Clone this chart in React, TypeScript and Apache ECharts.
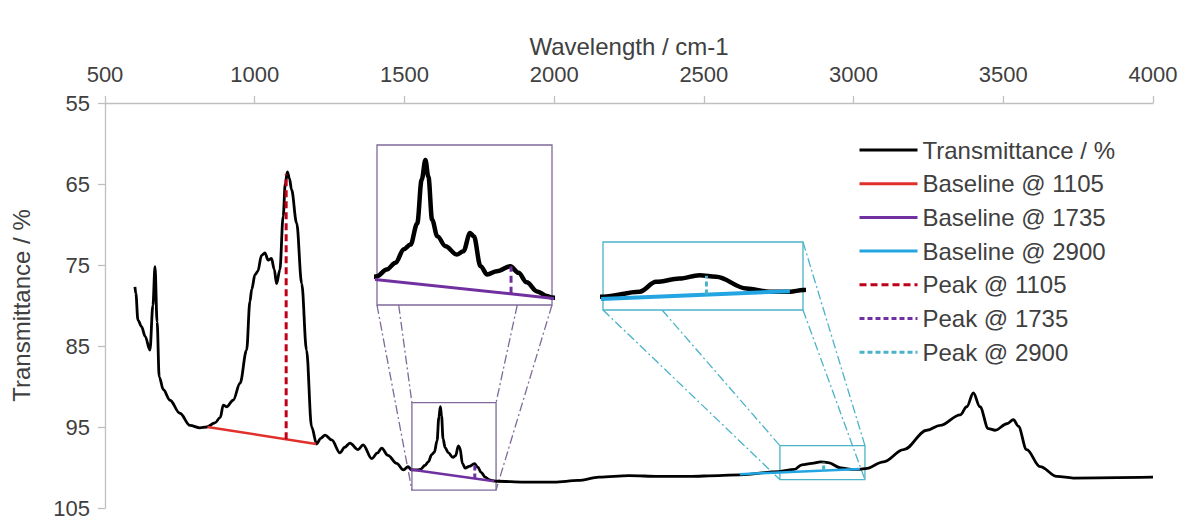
import React, { useEffect, useRef } from "react";
import * as echarts from "echarts";

// ---- data ----
const wavenumber = [
  600, 603, 610, 622, 634, 650, 660, 667, 674, 681, 695, 717, 750, 784, 817, 840, 867, 885, 895, 906,
  928, 951, 973, 984, 990, 1001, 1010, 1023, 1034, 1045, 1056, 1065, 1073, 1084, 1095, 1102, 1109,
  1116, 1123, 1140, 1157, 1173, 1190, 1207, 1220, 1235, 1257, 1285, 1300, 1318, 1345, 1362, 1391,
  1410, 1424, 1445, 1474, 1497, 1512, 1524, 1545, 1555, 1568, 1580, 1591, 1600, 1609, 1615, 1620,
  1624, 1629, 1636, 1647, 1662, 1671, 1680, 1685, 1694, 1703, 1716, 1734, 1745, 1756, 1770, 1783,
  1790, 1808, 1900, 2000, 2080, 2150, 2250, 2350, 2450, 2550, 2621, 2750, 2803, 2827, 2861, 2890,
  2914, 2958, 2992, 3021, 3040, 3100, 3167, 3245, 3289, 3356, 3378, 3400, 3422, 3450, 3473, 3512,
  3534, 3550, 3578, 3623, 3679, 3734, 4000,
];
const transmittance = [
  77.7, 78.5, 81.8, 82.6, 83.8, 85.5, 80.0, 75.2, 82.0, 88.8, 90.4, 91.7, 93.3, 94.8, 95.1, 95.0, 94.5, 93.8, 92.3, 92.5,
  91.7, 89.6, 85.5, 79.5, 78.0, 76.2, 75.8, 73.8, 73.5, 74.4, 74.2, 75.5, 77.3, 75.6, 69.0, 65.0, 63.5,
  64.3, 65.7, 69.8, 77.3, 85.5, 95.0, 97.1, 96.4, 96.0, 96.6, 98.2, 97.5, 97.0, 97.8, 97.2, 98.9,
  98.2, 97.6, 98.5, 99.5, 100.3, 99.9, 100.3, 100.3, 100.19, 99.75, 99.3, 98.4, 98.1, 96.7, 93.8, 92.5,
  93.6, 96.45, 97.55, 98.2, 98.76, 98.54, 97.33, 97.55, 99.53, 100.08, 99.86, 99.53, 99.97, 100.6, 101.2, 101.5,
  101.6, 101.7, 101.8, 101.8, 101.6, 101.2, 101.0, 101.1, 101.1, 101.0, 100.9, 100.5, 100.22, 99.67, 99.49, 99.3,
  99.39, 100.04, 100.22, 100.22, 100.13, 99.3, 97.8, 95.4, 94.8, 93.5, 92.5, 90.8, 92.5, 95.2, 95.4, 94.6,
  94.1, 94.9, 97.8, 99.9, 101.1, 101.3, 101.2,
];
const baseline1105 = [[842, 95.0], [1205, 97.1]];
const baseline1735 = [[1520, 100.25], [1800, 101.7]];
const baseline2900 = [[2620, 100.82], [3021, 100.19]];
const peak1105 = [[1105, 96.5], [1105, 63.8]];
const peak1735 = [[1735, 101.36], [1735, 99.55]];
const peak2900 = [[2900, 100.38], [2900, 99.33]];

const xTicks = { min: 500, max: 4000, interval: 500 };
const yTicks = { min: 55, max: 105, interval: 10 };

// zoom regions (data coordinates)
const zoomBox1735 = { x: [1525, 1806], y: [92.0, 102.8] };
const zoomBox2900 = { x: [2754, 3038], y: [97.3, 101.5] };
const inset1735Range = { x: [1555, 1790], y: [91.5, 102.1] };
const inset2900Range = { x: [2750, 3040], y: [97.45, 101.24] };

const names = [
  "Transmittance / %",
  "Baseline @ 1105",
  "Baseline @ 1735",
  "Baseline @ 2900",
  "Peak @ 1105",
  "Peak @ 1735",
  "Peak @ 2900",
];

// ---- layout / style ----
const FONT = "'Liberation Sans', Arial, sans-serif";
const INSET1 = { left: 377, top: 145, width: 175, height: 160 };
const INSET2 = { left: 603, top: 242, width: 200, height: 68 };
const PURPLE = "#7030a0";
const PURPLE_BOX = "#7f6a9a";
const BLUE = "#22a5e0";
const CYAN = "#4bb3c8";
const RED = "#e0302c";
const DARKRED = "#c00018";
const TEXT = "#404040";

export default function App() {
  const ref = useRef<HTMLDivElement>(null);
  useEffect(() => {
    const chart = echarts.init(ref.current!, null, { renderer: "svg" });
    const spectrum = wavenumber.map((w, i) => [w, transmittance[i]]);
    const lineBase = { type: "line", symbol: "none", silent: true, animation: false };

    const option: any = {
      animation: false,
      backgroundColor: "#ffffff",
      textStyle: { fontFamily: FONT },
      legend: {
        data: names,
        orient: "vertical",
        left: 853,
        top: 133,
        itemWidth: 58,
        itemHeight: 12,
        itemGap: 9.7,
        itemStyle: { color: "rgba(0,0,0,0)", borderColor: "rgba(0,0,0,0)", borderWidth: 0, opacity: 0 },
        lineStyle: { width: 3 },
        textStyle: { fontSize: 24, color: TEXT, fontFamily: FONT },
        selectedMode: false,
      },
      grid: [
        { left: 105, top: 103, right: 37, bottom: 13, containLabel: false },
        {
          left: INSET1.left, top: INSET1.top, width: INSET1.width, height: INSET1.height,
          show: true, backgroundColor: "#ffffff", borderColor: PURPLE_BOX, borderWidth: 1.3, z: 5,
        },
        {
          left: INSET2.left, top: INSET2.top, width: INSET2.width, height: INSET2.height,
          show: true, backgroundColor: "#ffffff", borderColor: CYAN, borderWidth: 1.3, z: 5,
        },
      ],
      xAxis: [
        {
          type: "value", gridIndex: 0, position: "top",
          min: xTicks.min, max: xTicks.max, interval: xTicks.interval,
          name: "Wavelength / cm-1", nameLocation: "middle", nameGap: 40,
          nameTextStyle: { fontSize: 24, color: TEXT, fontFamily: FONT },
          axisLine: { show: true, lineStyle: { color: "#bfbfbf", width: 1.3 } },
          axisTick: { show: true, length: 7, lineStyle: { color: "#bfbfbf", width: 1.3 } },
          axisLabel: { fontSize: 22, color: TEXT, margin: 18, fontFamily: FONT, formatter: (v: number) => String(v) },
          splitLine: { show: false },
        },
        { type: "value", gridIndex: 1, min: inset1735Range.x[0], max: inset1735Range.x[1], show: false, splitLine: { show: false } },
        { type: "value", gridIndex: 2, min: inset2900Range.x[0], max: inset2900Range.x[1], show: false, splitLine: { show: false } },
      ],
      yAxis: [
        {
          type: "value", gridIndex: 0, inverse: true,
          min: yTicks.min, max: yTicks.max, interval: yTicks.interval,
          name: "Transmittance / %", nameLocation: "middle", nameGap: 72, nameRotate: 90,
          nameTextStyle: { fontSize: 24, color: TEXT, fontFamily: FONT },
          axisLine: { show: true, lineStyle: { color: "#bfbfbf", width: 1.3 } },
          axisTick: { show: true, length: 7, lineStyle: { color: "#bfbfbf", width: 1.3 } },
          axisLabel: { fontSize: 22, color: TEXT, margin: 15, fontFamily: FONT, formatter: (v: number) => String(v) },
          splitLine: { show: false },
        },
        { type: "value", gridIndex: 1, inverse: true, min: inset1735Range.y[0], max: inset1735Range.y[1], show: false, splitLine: { show: false } },
        { type: "value", gridIndex: 2, inverse: true, min: inset2900Range.y[0], max: inset2900Range.y[1], show: false, splitLine: { show: false } },
      ],
      series: [
        // main chart
        {
          ...lineBase, name: names[0], xAxisIndex: 0, yAxisIndex: 0, data: spectrum,
          smooth: 0.35, smoothMonotone: "x", z: 3,
          itemStyle: { color: "#000000" }, lineStyle: { color: "#000000", width: 2.8 },
        },
        {
          ...lineBase, name: names[1], xAxisIndex: 0, yAxisIndex: 0, data: baseline1105, z: 4,
          itemStyle: { color: RED }, lineStyle: { color: RED, width: 2.5 },
        },
        {
          ...lineBase, name: names[2], xAxisIndex: 0, yAxisIndex: 0, data: baseline1735, z: 4,
          itemStyle: { color: PURPLE }, lineStyle: { color: PURPLE, width: 2.5 },
          markArea: {
            silent: true,
            itemStyle: { color: "rgba(0,0,0,0)", borderColor: PURPLE_BOX, borderWidth: 1.3 },
            data: [[{ coord: [zoomBox1735.x[0], zoomBox1735.y[0]] }, { coord: [zoomBox1735.x[1], zoomBox1735.y[1]] }]],
          },
        },
        {
          ...lineBase, name: names[3], xAxisIndex: 0, yAxisIndex: 0, data: baseline2900, z: 4,
          itemStyle: { color: BLUE }, lineStyle: { color: BLUE, width: 2.5 },
          markArea: {
            silent: true,
            itemStyle: { color: "rgba(0,0,0,0)", borderColor: CYAN, borderWidth: 1.3 },
            data: [[{ coord: [zoomBox2900.x[0], zoomBox2900.y[0]] }, { coord: [zoomBox2900.x[1], zoomBox2900.y[1]] }]],
          },
        },
        {
          ...lineBase, name: names[4], xAxisIndex: 0, yAxisIndex: 0, data: peak1105, z: 4,
          itemStyle: { color: DARKRED }, lineStyle: { color: DARKRED, width: 3, type: [7, 4] },
        },
        {
          ...lineBase, name: names[5], xAxisIndex: 0, yAxisIndex: 0, data: peak1735, z: 4,
          itemStyle: { color: PURPLE }, lineStyle: { color: PURPLE, width: 3, type: [5, 3] },
        },
        {
          ...lineBase, name: names[6], xAxisIndex: 0, yAxisIndex: 0, data: peak2900, z: 4,
          itemStyle: { color: CYAN }, lineStyle: { color: CYAN, width: 3, type: [5, 3] },
        },
        // inset 1735
        {
          ...lineBase, name: names[0], xAxisIndex: 1, yAxisIndex: 1, data: spectrum, z: 6,
          smooth: 0.35, smoothMonotone: "x",
          itemStyle: { color: "#000000" }, lineStyle: { color: "#000000", width: 4.5 },
        },
        {
          ...lineBase, name: names[2], xAxisIndex: 1, yAxisIndex: 1, data: baseline1735, z: 7,
          itemStyle: { color: PURPLE }, lineStyle: { color: PURPLE, width: 3 },
        },
        {
          ...lineBase, name: names[5], xAxisIndex: 1, yAxisIndex: 1, data: peak1735, z: 7,
          itemStyle: { color: PURPLE }, lineStyle: { color: PURPLE, width: 3, type: [7, 4] },
        },
        // inset 2900
        {
          ...lineBase, name: names[0], xAxisIndex: 2, yAxisIndex: 2, data: spectrum, z: 6,
          smooth: 0.35, smoothMonotone: "x",
          itemStyle: { color: "#000000" }, lineStyle: { color: "#000000", width: 4.5 },
        },
        {
          ...lineBase, name: names[3], xAxisIndex: 2, yAxisIndex: 2, data: baseline2900, z: 7,
          itemStyle: { color: BLUE }, lineStyle: { color: BLUE, width: 4 },
        },
        {
          ...lineBase, name: names[6], xAxisIndex: 2, yAxisIndex: 2, data: peak2900, z: 7,
          itemStyle: { color: CYAN }, lineStyle: { color: CYAN, width: 3, type: [5, 3] },
        },
      ],
    };
    chart.setOption(option);

    // connector lines from inset corners to the zoomed box corners
    const connectors = (inset: any, box: any, color: string) => {
      const L = inset.left, T = inset.top, R = inset.left + inset.width, B = inset.top + inset.height;
      const pb = (x: number, y: number) => chart.convertToPixel({ gridIndex: 0 } as any, [x, y]) as number[];
      const bTL = pb(box.x[0], box.y[0]);
      const bTR = pb(box.x[1], box.y[0]);
      const bBL = pb(box.x[0], box.y[1]);
      const bBR = pb(box.x[1], box.y[1]);
      const pairs: [number[], number[]][] = [
        [[L, T], bTL], [[R, T], bTR], [[L, B], bBL], [[R, B], bBR],
      ];
      return pairs.map(([p0, p1]) => {
        const dx = p1[0] - p0[0], dy = p1[1] - p0[1];
        let tx = Infinity, ty = Infinity;
        if (p1[0] > R) tx = (R - p0[0]) / dx; else if (p1[0] < L) tx = (L - p0[0]) / dx;
        if (p1[1] > B) ty = (B - p0[1]) / dy; else if (p1[1] < T) ty = (T - p0[1]) / dy;
        let t = Math.min(tx, ty);
        if (!isFinite(t) || t < 0) t = 0;
        return {
          type: "line", silent: true, z: 1,
          shape: { x1: p0[0] + t * dx, y1: p0[1] + t * dy, x2: p1[0], y2: p1[1] },
          style: { stroke: color, lineWidth: 1.3, lineDash: [9, 3, 2, 3] },
        };
      });
    };
    chart.setOption({
      graphic: [
        ...connectors(INSET1, zoomBox1735, PURPLE_BOX),
        ...connectors(INSET2, zoomBox2900, CYAN),
      ],
    });

    return () => chart.dispose();
  }, []);
  return (
    <div
      ref={ref}
      style={{ position: "fixed", left: 0, top: 0, width: 1190, height: 521, background: "#fff" }}
    />
  );
}
